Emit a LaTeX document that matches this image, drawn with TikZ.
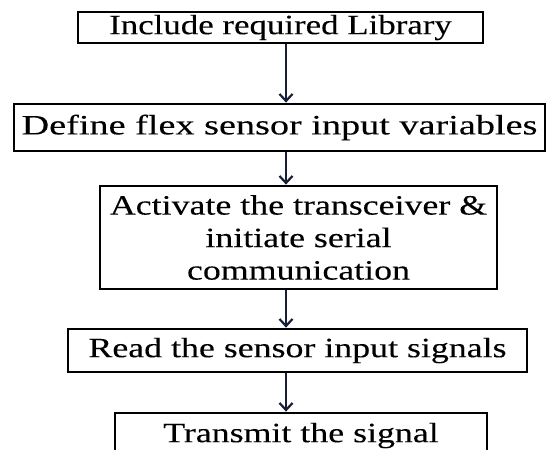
\documentclass[tikz,border=0pt]{standalone}
\usepackage{fontspec}
\setmainfont{Liberation Serif}[FakeBold=0.15]
\usepackage{graphicx}
\usetikzlibrary{arrows.meta}
\newcommand{\sx}[2][1.28]{\scalebox{#1}[1]{#2}}
\tikzset{
  stepbox/.style={draw=black, line width=2.8pt, inner sep=0pt, align=center,
    font=\fontsize{28}{32.5}\selectfont},
  flowarrow/.style={draw={rgb,255:red,25;green,30;blue,55}, line width=2.2pt,
    -{Straight Barb[length=7pt,width=13pt,line width=2.2pt]}}
}
\begin{document}
\begin{tikzpicture}[x=1pt,y=-1pt]
\useasboundingbox (0,0) rectangle (547,450);
\clip (0,0) rectangle (547,450);
\node[stepbox, minimum width=405pt, minimum height=31pt] (b1) at (280.5,27.5) {\sx[1.245]{Include required Library}};
\node[stepbox, minimum width=531pt, minimum height=47pt] (b2) at (279.5,127.5) {\sx[1.365]{Define flex sensor input variables}};
\node[stepbox, minimum width=397pt, minimum height=103pt] (b3) at (298.5,237.5) {\sx{Activate the transceiver \&}\\\sx{initiate serial}\\\sx{communication}};
\node[stepbox, minimum width=459pt, minimum height=43pt] (b4) at (297.5,350.5) {\sx{Read the sensor input signals}};
\node[stepbox, minimum width=372pt, minimum height=45pt] (b5) at (301,435.5) {\sx{Transmit the signal}};
\coordinate (ax) at (286,0);
\draw[flowarrow] (b1.south -| ax) -- (b2.north -| ax);
\draw[flowarrow] (b2.south -| ax) -- (b3.north -| ax);
\draw[flowarrow] (b3.south -| ax) -- (b4.north -| ax);
\draw[flowarrow] (b4.south -| ax) -- (b5.north -| ax);
\end{tikzpicture}
\end{document}
